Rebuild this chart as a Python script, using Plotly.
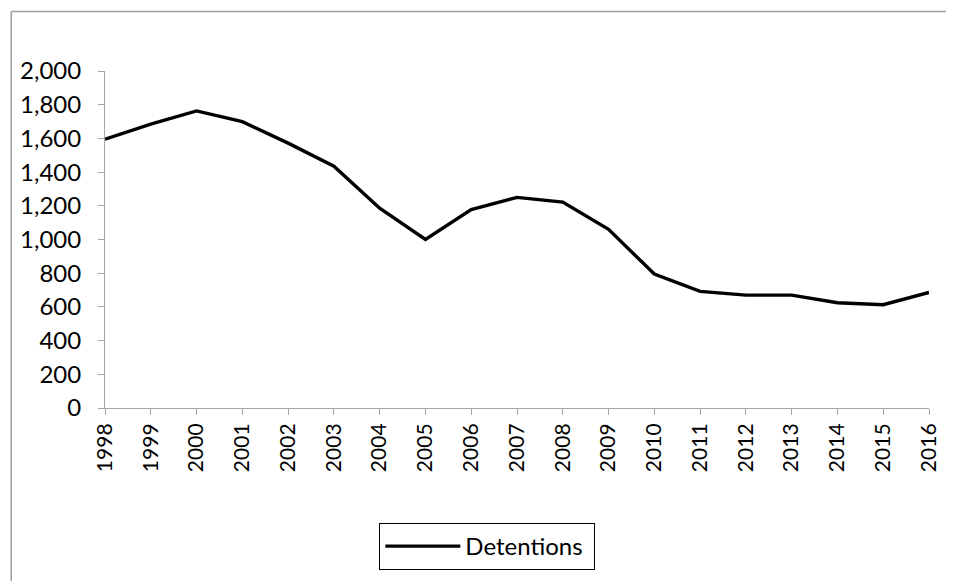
import plotly.graph_objects as go

years = [str(y) for y in range(1998, 2017)]
detentions = [1595, 1685, 1763, 1699, 1572, 1435, 1186, 1000, 1178, 1250, 1222,
              1060, 795, 692, 670, 670, 625, 613, 686]
y_ticks = list(range(0, 2001, 200))
y_tick_labels = [f"{v:,}" for v in y_ticks]

OFF = 8  # default page body margin
W, H = 954, 581
# plot area in page pixels
L, R, T, B = 103, 929, 71, 408
font = "Lato, 'Open Sans', sans-serif"

def px_x(p):
    return (p - L) / (R - L)

def px_y(p):
    return (B - p) / (B - T)

fig = go.Figure()
fig.add_trace(go.Scatter(x=years, y=detentions, mode="lines", name="Detentions\u00a0",
                         line=dict(color="black", width=3.4)))

fig.update_layout(
    width=W, height=H,
    margin=dict(l=L - OFF, r=W - (R - OFF), t=T - OFF, b=H - (B - OFF)),
    paper_bgcolor="white", plot_bgcolor="white",
    font=dict(family=font, size=21, color="black"),
    showlegend=True,
    legend=dict(x=px_x(378), y=px_y(523), xanchor="left", yanchor="top",
                bordercolor="black", borderwidth=1, bgcolor="white",
                font=dict(size=24), itemwidth=75),
    shapes=[
        dict(type="line", xref="paper", yref="paper", x0=px_x(9), x1=px_x(960),
             y0=px_y(11.5), y1=px_y(11.5), line=dict(color="#A0A0A0", width=1.5)),
        dict(type="line", xref="paper", yref="paper", x0=px_x(9), x1=px_x(9),
             y0=px_y(11.5), y1=px_y(590), line=dict(color="#A0A0A0", width=1.5)),
    ],
)
fig.update_xaxes(type="category", range=[0, len(years) - 1], showline=True,
                 linecolor="#A6A6A6", linewidth=1, ticks="outside", ticklen=6,
                 tickcolor="#A6A6A6", tickangle=-90, showgrid=False,
                 tickfont=dict(family=font, size=21))
fig.update_yaxes(range=[0, 2000], tickvals=y_ticks, ticktext=y_tick_labels,
                 showline=True, linecolor="#A6A6A6", linewidth=1, ticks="outside",
                 ticklen=6, tickcolor="#A6A6A6", showgrid=False, zeroline=False,
                 ticklabelstandoff=12,
                 tickfont=dict(family=font, size=24))

fig.write_html("out.html")
